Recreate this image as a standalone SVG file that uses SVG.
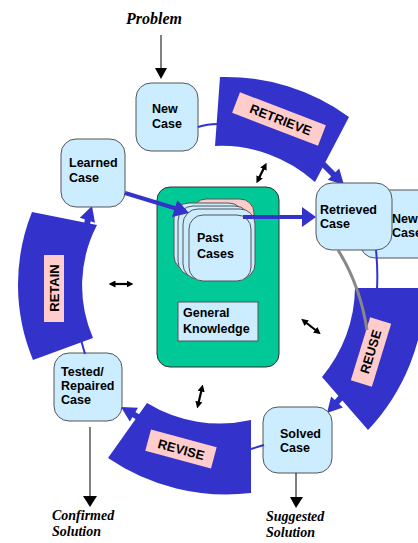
<svg xmlns="http://www.w3.org/2000/svg" width="418" height="543" viewBox="0 0 418 543">
<defs>
<style>
.band{fill:#3333cc;stroke:none}
.node{fill:#ccecff;stroke:#555;stroke-width:1}
.lbl{fill:#ffcccc;stroke:none}
.t{font-family:"Liberation Sans",Arial,sans-serif;font-weight:bold;font-size:12.5px;fill:#000}
.it{font-family:"Liberation Serif","Times New Roman",serif;font-weight:bold;font-style:italic;font-size:14px;fill:#000}
.big{font-size:16px}
.thin{stroke:#3333cc;stroke-width:2;fill:none}
.thick{stroke:#3333cc;stroke-width:4;fill:none}
.blk{stroke:#000;stroke-width:1;fill:none}
.dbl{stroke:#000;stroke-width:2.2;fill:none;marker-start:url(#dh);marker-end:url(#dh)}
</style>
<marker id="dh" viewBox="0 0 10 10" refX="5" refY="5" markerWidth="7" markerHeight="7" markerUnits="userSpaceOnUse" orient="auto-start-reverse">
<path d="M0,0 L10,5 L0,10 Z" fill="#000"/>
</marker>
</defs>
<rect width="418" height="543" fill="#fff"/>

<g id="band-retrieve">
<path class="band" d="M220,77 A210,210 0 0 1 349,117 L315,182 A140,140 0 0 0 215,146 Z"/>
<line x1="322" y1="163" x2="334" y2="175" stroke="#3333cc" stroke-width="6"/>
<polygon class="band" points="339.2,168.6 327.8,179.8 344,185"/>
<rect class="lbl" x="-46" y="-11" width="92" height="22" transform="translate(279,119) rotate(21)"/>
<text class="t" text-anchor="middle" style="font-size:13px" transform="translate(279,124) rotate(21)">RETRIEVE</text>
</g>

<g id="band-reuse">
<path class="band" d="M355,288 L425,288 A210,210 0 0 1 368,430 L322,377 A141,141 0 0 0 355,288 Z"/>
<line x1="346" y1="392" x2="336" y2="403" stroke="#3333cc" stroke-width="6"/>
<polygon class="band" points="342.9,407.4 331.1,396.6 327,413"/>
<rect class="lbl" x="-33" y="-11" width="66" height="22" transform="translate(371,352) rotate(-73)"/>
<text class="t" text-anchor="middle" style="font-size:13px" transform="translate(375,353) rotate(-73)">REUSE</text>
</g>

<g id="band-revise">
<path class="band" d="M251,420 L251,493 A210,210 0 0 1 108,458 L147,403 A140,140 0 0 0 251,420 Z"/>
<line x1="146" y1="422" x2="133" y2="414" stroke="#3333cc" stroke-width="6"/>
<polygon class="band" points="138,407.8 129.8,421.6 121,407"/>
<rect class="lbl" x="-34" y="-11" width="68" height="22" transform="translate(181,449) rotate(15)"/>
<text class="t" text-anchor="middle" style="font-size:13px" transform="translate(180,454) rotate(15)">REVISE</text>
</g>

<g id="band-retain">
<path class="band" d="M33,360 A196,196 0 0 1 32,212 L97,225 A131,131 0 0 0 93,338 Z"/>
<line x1="86" y1="230" x2="88" y2="219" stroke="#3333cc" stroke-width="6"/>
<polygon class="band" points="95,222.8 79.8,217.8 92,206"/>
<rect class="lbl" x="44" y="255" width="20" height="67"/>
<text class="t" text-anchor="middle" style="font-size:13px" transform="translate(59,288) rotate(-90)">RETAIN</text>
</g>

<g id="n-kb">
<rect x="157" y="187" width="122" height="180" rx="13" fill="#00c896" stroke="#333" stroke-width="1"/>
</g>

<g id="n-pastcases">
<rect x="192" y="199" width="62" height="66" rx="14" fill="#ffcccc" stroke="#555"/>
<rect class="node" x="174" y="203" width="70" height="68" rx="15"/>
<rect class="node" x="178" y="206" width="72" height="70" rx="15"/>
<rect class="node" x="183" y="209" width="72" height="70" rx="15"/>
<rect class="node" x="189" y="215" width="62" height="66" rx="14"/>
<text class="t" x="197" y="242">Past</text>
<text class="t" x="197" y="258">Cases</text>
</g>

<g id="n-general">
<rect class="node" x="178" y="302" width="80" height="39"/>
<text class="t" x="183" y="317">General</text>
<text class="t" x="183" y="333">Knowledge</text>
</g>

<g id="n-problem">
<text class="it big" x="126" y="24">Problem</text>
</g>

<g id="n-newcase">
<rect class="node" x="136" y="83" width="62" height="68" rx="15"/>
<text class="t" x="152" y="113">New</text>
<text class="t" x="152" y="128">Case</text>
</g>

<g id="n-learned">
<rect class="node" x="61" y="139" width="64" height="68" rx="15"/>
<text class="t" x="69" y="167">Learned</text>
<text class="t" x="69" y="182">Case</text>
</g>

<g id="n-newcase2">
<rect class="node" x="360" y="190" width="80" height="68" rx="15"/>
<text class="t" x="392" y="223">New</text>
<text class="t" x="392" y="237">Case</text>
</g>

<g id="n-retrieved">
<rect class="node" x="316" y="183" width="76" height="67" rx="16"/>
<text class="t" x="320" y="214">Retrieved</text>
<text class="t" x="320" y="228">Case</text>
</g>

<g id="n-tested">
<rect class="node" x="54" y="353" width="68" height="68" rx="15"/>
<text class="t" x="61" y="376">Tested/</text>
<text class="t" x="61" y="390">Repaired</text>
<text class="t" x="61" y="404">Case</text>
</g>

<g id="n-solved">
<rect class="node" x="263" y="407" width="69" height="66" rx="15"/>
<text class="t" x="280" y="438">Solved</text>
<text class="t" x="280" y="452">Case</text>
</g>

<g id="n-confirmed">
<text class="it" x="52" y="520">Confirmed</text>
<text class="it" x="52" y="536">Solution</text>
</g>

<g id="n-suggested">
<text class="it" x="266" y="521">Suggested</text>
<text class="it" x="266" y="537">Solution</text>
</g>

<g id="connectors">
<line class="blk" x1="161" y1="35" x2="161" y2="70"/>
<polygon points="155,68 167,68 161,79" fill="#000"/>
<line class="blk" x1="90" y1="427" x2="90" y2="497"/>
<polygon points="83,496 97,496 90,507" fill="#000"/>
<line class="blk" x1="296" y1="473" x2="296" y2="498"/>
<polygon points="290,497 303,497 296,508" fill="#000"/>

<path class="thin" d="M198,127 Q207,124 218,124"/>
<path class="thin" d="M376,250 Q378,270 377,289"/>
<path d="M338,250 Q360,285 367,330" stroke="#888" stroke-width="3" fill="none"/>
<line class="thin" x1="251" y1="449" x2="264" y2="445"/>
<line class="thin" x1="81" y1="340" x2="85" y2="354"/>

<line class="thick" x1="125" y1="193" x2="176" y2="208.5"/>
<polygon points="177.4,199.9 172,217.1 189,213" fill="#3333cc"/>
<line class="thick" x1="243" y1="217" x2="304" y2="217"/>
<polygon points="302,207 302,227 316,217" fill="#3333cc"/>

<line class="dbl" x1="265" y1="166" x2="258" y2="180"/>
<line class="dbl" x1="112" y1="284" x2="130" y2="284"/>
<line class="dbl" x1="304" y1="321" x2="318" y2="332"/>
<line class="dbl" x1="202" y1="388" x2="198" y2="405"/>
</g>
</svg>
